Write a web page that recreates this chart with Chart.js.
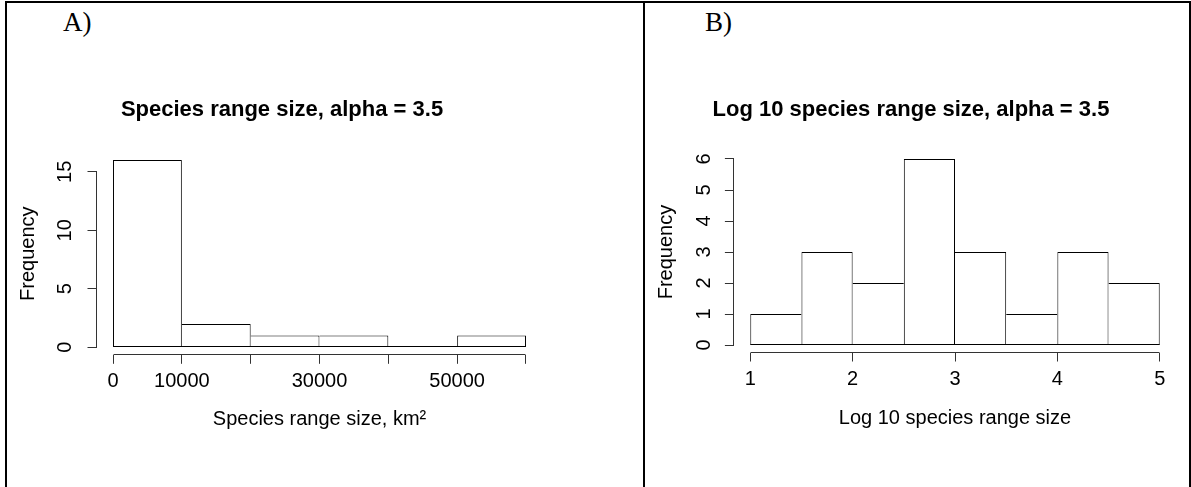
<!DOCTYPE html>
<html>
<head>
<meta charset="utf-8">
<script src="https://cdn.jsdelivr.net/npm/chart.js@4/dist/chart.umd.min.js"></script>
<style>
  html, body { margin: 0; padding: 0; background: #fff; }
  #page { position: relative; width: 1191px; height: 487px; overflow: hidden; background: #fff; }
  .ln { position: absolute; background: #000; }
  .lbl { position: absolute; font-family: "Liberation Serif", "Times New Roman", serif; font-size: 27px; line-height: 27px; color: #000; white-space: nowrap; }
  #wa { position: absolute; left: 7px; top: 3px; width: 636px; height: 484px; }
  #wb { position: absolute; left: 645px; top: 3px; width: 544px; height: 484px; }
</style>
</head>
<body>
<div id="page">
  <div class="ln" style="left:5px;top:1px;width:1186px;height:2px"></div>
  <div class="ln" style="left:5px;top:1px;width:2px;height:486px"></div>
  <div class="ln" style="left:643px;top:1px;width:2px;height:486px"></div>
  <div class="ln" style="left:1189px;top:1px;width:2px;height:486px"></div>
  <div class="lbl" style="left:63px;top:9px">A)</div>
  <div class="lbl" style="left:705px;top:9px">B)</div>
  <div id="wa"><canvas id="ca"></canvas></div>
  <div id="wb"><canvas id="cb"></canvas></div>
</div>
<script>
// ---- data: panel A ----
const binEdgesA = [0, 10000, 20000, 30000, 40000, 50000, 60000];
const countsA = [16, 2, 1, 1, 0, 1];
const xTicksA = [0, 10000, 20000, 30000, 40000, 50000, 60000];
const xTickLabelsA = ['0', '10000', '', '30000', '', '50000', ''];
const yTicksA = [0, 5, 10, 15];
const titleA = 'Species range size, alpha = 3.5';
const xTitleA = 'Species range size, km\u00B2';

// ---- data: panel B ----
const binEdgesB = [1, 1.5, 2, 2.5, 3, 3.5, 4, 4.5, 5];
const countsB = [1, 3, 2, 6, 3, 1, 3, 2];
const xTicksB = [1, 2, 3, 4, 5];
const xTickLabelsB = ['1', '2', '3', '4', '5'];
const yTicksB = [0, 1, 2, 3, 4, 5, 6];
const titleB = 'Log 10 species range size, alpha = 3.5';
const xTitleB = 'Log 10 species range size';

const SANS = '"Liberation Sans", Arial, Helvetica, sans-serif';
const AXIS_COLOR = '#333';

// R-style axes: axis line only from first to last tick, plus histogram baseline
const rAxes = {
  id: 'rAxes',
  afterDraw(chart, args, opts) {
    const { ctx } = chart;
    const x = chart.scales.x, y = chart.scales.y;
    ctx.save();
    ctx.lineWidth = 1;
    ctx.strokeStyle = AXIS_COLOR;
    const xt = x.ticks, yt = y.ticks;
    const yb = Math.round(x.top - 0.5) + 0.5;
    ctx.beginPath();
    ctx.moveTo(Math.round(x.getPixelForValue(xt[0].value) - 0.5) + 0.5, yb);
    ctx.lineTo(Math.round(x.getPixelForValue(xt[xt.length - 1].value) - 0.5) + 0.5, yb);
    ctx.stroke();
    const xl = Math.round(y.right - 0.5) + 0.5;
    ctx.beginPath();
    ctx.moveTo(xl, Math.round(y.getPixelForValue(yt[0].value) - 0.5) + 0.5);
    ctx.lineTo(xl, Math.round(y.getPixelForValue(yt[yt.length - 1].value) - 0.5) + 0.5);
    ctx.stroke();
    // baseline of the histogram (covers empty bins too)
    const edges = opts.edges;
    const y0 = Math.round(y.getPixelForValue(0)) - 0.5;
    ctx.strokeStyle = '#000';
    ctx.beginPath();
    ctx.moveTo(x.getPixelForValue(edges[0]), y0);
    ctx.lineTo(x.getPixelForValue(edges[edges.length - 1]), y0);
    ctx.stroke();
    ctx.restore();
  }
};

function makeHist(canvasId, cfg) {
  const edges = cfg.edges, counts = cfg.counts, n = counts.length;
  const xr = edges[n] - edges[0];
  const ymax = Math.max(...counts);
  const points = counts.map((c, i) => ({ x: (edges[i] + edges[i + 1]) / 2, y: c }));
  return new Chart(document.getElementById(canvasId), {
    type: 'bar',
    data: {
      datasets: [{
        data: points,
        backgroundColor: '#fff',
        borderColor: '#000',
        borderSkipped: false,
        inflateAmount: 0,
        barPercentage: 1,
        categoryPercentage: 1,
        borderWidth: (ctx) => {
          const i = ctx.dataIndex;
          if (i === undefined) return 1;
          return {
            top: 1,
            bottom: 0,
            left: (i === 0 || counts[i - 1] < counts[i]) ? 1 : 0,
            right: (i === n - 1 || counts[i] >= counts[i + 1]) ? 1 : 0
          };
        }
      }]
    },
    options: {
      responsive: true,
      maintainAspectRatio: false,
      animation: false,
      devicePixelRatio: 1,
      events: [],
      layout: { padding: { left: cfg.padLeft, right: cfg.padRight, top: 0, bottom: 0 } },
      plugins: {
        legend: { display: false },
        tooltip: { enabled: false },
        title: {
          display: true,
          text: cfg.title,
          fullSize: true,
          color: '#000',
          font: { family: SANS, size: 22, weight: 'bold', lineHeight: 1.2 },
          padding: { top: cfg.titleTop, bottom: cfg.titleBottom }
        },
        rAxes: { edges: edges }
      },
      scales: {
        x: {
          type: 'linear',
          bounds: 'data',
          offset: false,
          min: edges[0] - 0.04 * xr,
          max: edges[n] + 0.04 * xr,
          afterBuildTicks: (s) => { s.ticks = cfg.xTicks.map(v => ({ value: v })); },
          afterFit: (s) => { s.height = cfg.xHeight; },
          grid: { offset: false, drawOnChartArea: false, drawTicks: true, tickLength: 9, color: AXIS_COLOR, lineWidth: 1 },
          border: { display: false },
          ticks: {
            autoSkip: false, minRotation: 0, maxRotation: 0, padding: 6, color: '#000',
            font: { family: SANS, size: 20, lineHeight: 1.2 },
            callback: (v, i) => cfg.xLabels[i]
          },
          title: {
            display: true, text: cfg.xTitle, color: '#000',
            font: { family: SANS, size: 20, lineHeight: 1.2 },
            padding: { top: 0, bottom: cfg.xTitleBottom }
          }
        },
        y: {
          type: 'linear',
          bounds: 'data',
          min: -0.04 * ymax,
          max: ymax * 1.04,
          afterBuildTicks: (s) => { s.ticks = cfg.yTicks.map(v => ({ value: v })); },
          afterFit: (s) => { s.width = cfg.yWidth; },
          grid: { drawOnChartArea: false, drawTicks: true, tickLength: 9, color: AXIS_COLOR, lineWidth: 1 },
          border: { display: false },
          ticks: {
            minRotation: 90, maxRotation: 90, crossAlign: 'center', padding: cfg.yTickPad, color: '#000',
            font: { family: SANS, size: 20, lineHeight: 1.2 },
            callback: (v) => String(v)
          },
          title: {
            display: true, text: 'Frequency', color: '#000',
            font: { family: SANS, size: 20, lineHeight: cfg.yTitleLH },
            padding: { top: cfg.yTitleTop, bottom: 0 }
          }
        }
      }
    },
    plugins: [rAxes]
  });
}

makeHist('ca', {
  edges: binEdgesA, counts: countsA, xTicks: xTicksA, xLabels: xTickLabelsA, yTicks: yTicksA,
  title: titleA, xTitle: xTitleA,
  padLeft: 14.5, padRight: 100.5, yWidth: 75, xHeight: 132.2,
  titleTop: 93.3, titleBottom: 29.9, xTitleBottom: 55.5, yTickPad: 10.4,
  yTitleLH: 0.65, yTitleTop: 0
});
makeHist('cb', {
  edges: binEdgesB, counts: countsB, xTicks: xTicksB, xLabels: xTickLabelsB, yTicks: yTicksB,
  title: titleB, xTitle: xTitleB,
  padLeft: 0.9, padRight: 12.9, yWidth: 88, xHeight: 134.5,
  titleTop: 93.3, titleBottom: 28.85, xTitleBottom: 57, yTickPad: 14.6,
  yTitleLH: 1.2, yTitleTop: 8.1
});
</script>
</body>
</html>
